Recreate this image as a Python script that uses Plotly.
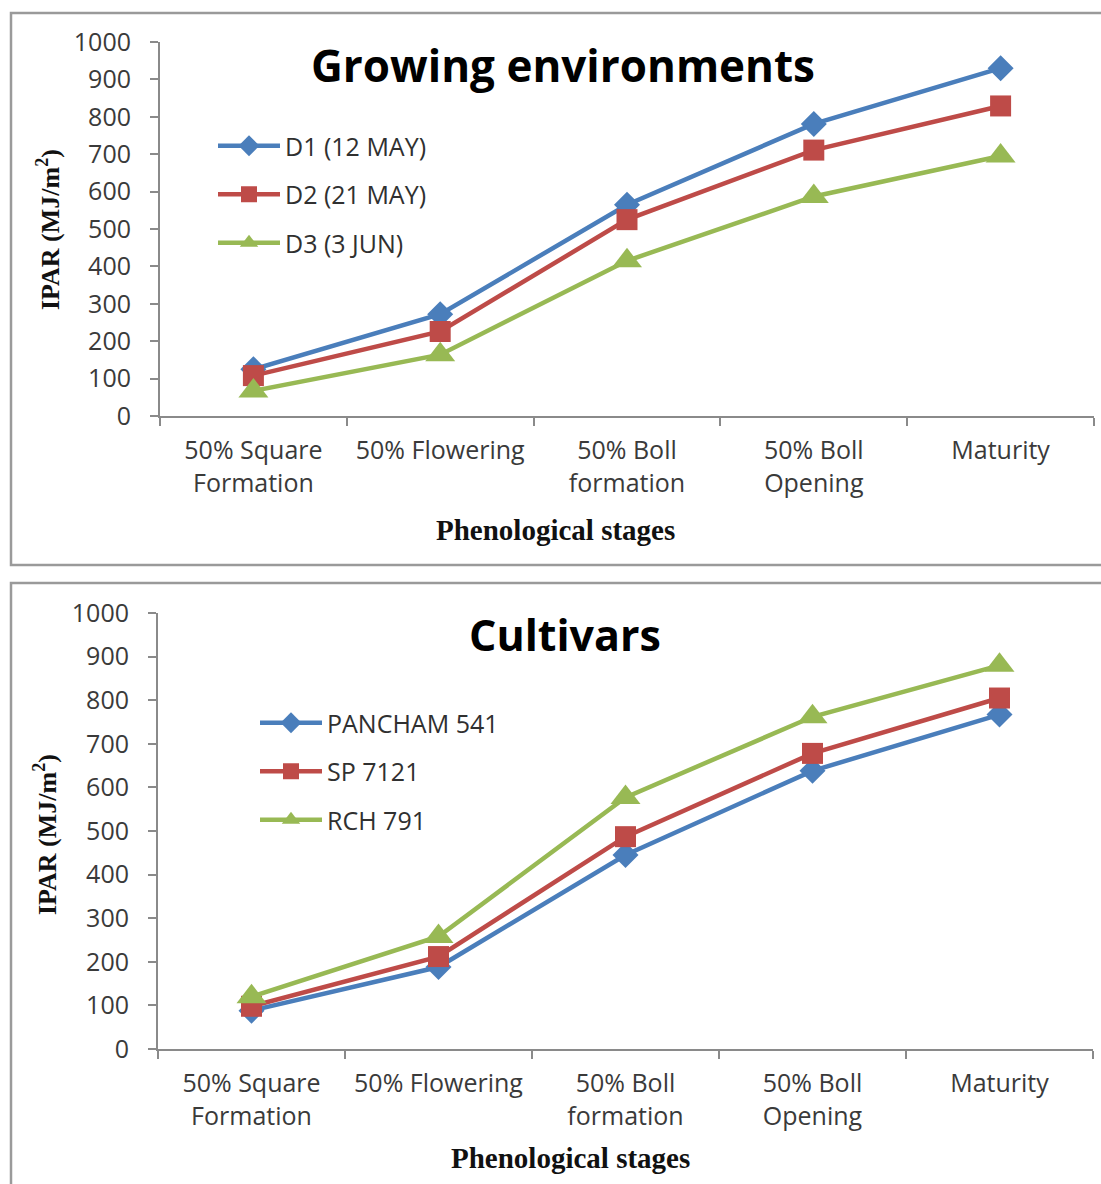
import plotly.graph_objects as go

W, H = 1101, 1184

stages = ["50% Square<br>Formation", "50% Flowering", "50% Boll<br>formation",
          "50% Boll<br>Opening", "Maturity"]

# Growing environments (sowing dates)
d1_12may = [125, 272, 565, 781, 930]
d2_21may = [108, 226, 525, 711, 829]
d3_3jun = [67, 164, 415, 587, 695]

# Cultivars
pancham_541 = [88, 188, 445, 638, 767]
sp_7121 = [98, 212, 487, 678, 805]
rch_791 = [120, 258, 577, 762, 880]

y_ticks = [0, 100, 200, 300, 400, 500, 600, 700, 800, 900, 1000]

BLUE, RED, GREEN = "#4a7ebb", "#be4b48", "#98b954"
SANS = "'Open Sans', Calibri, sans-serif"
SERIF = "'Liberation Serif', 'Times New Roman', serif"
TICK_COLOR = "#3a3a3a"
AXIS_COLOR = "#8a8a8a"


def px_x(p):
    return p / W


def px_y(p):
    return 1 - p / H


series_top = [("D1 (12 MAY)", d1_12may, BLUE, "diamond", 20),
              ("D2 (21 MAY)", d2_21may, RED, "square", 21),
              ("D3 (3 JUN)", d3_3jun, GREEN, "triangle-up", 26)]
series_bot = [("PANCHAM 541", pancham_541, BLUE, "diamond", 20),
              ("SP 7121", sp_7121, RED, "square", 21),
              ("RCH 791", rch_791, GREEN, "triangle-up", 26)]

fig = go.Figure()

for i, (name, vals, col, sym, size) in enumerate(series_top):
    fig.add_trace(go.Scatter(
        x=stages, y=vals, name=name, mode="lines+markers",
        line=dict(color=col, width=4.5),
        marker=dict(symbol=sym, size=size, color=col),
        xaxis="x", yaxis="y", legend="legend", legendgroup=f"t{i}"))

for i, (name, vals, col, sym, size) in enumerate(series_bot):
    fig.add_trace(go.Scatter(
        x=stages, y=vals, name=name, mode="lines+markers",
        line=dict(color=col, width=4.5),
        marker=dict(symbol=sym, size=size, color=col),
        xaxis="x2", yaxis="y2", legend="legend2", legendgroup=f"b{i}"))

xaxis_common = dict(
    type="category", showgrid=False, zeroline=False,
    showline=True, linecolor=AXIS_COLOR, linewidth=2,
    ticks="outside", tickson="boundaries", ticklen=8, tickcolor=AXIS_COLOR, tickwidth=2,
    tickfont=dict(family=SANS, size=25, color=TICK_COLOR), ticklabelstandoff=11,
    range=[-0.5, 4.5], fixedrange=True)
yaxis_common = dict(
    range=[0, 1000], tickvals=y_ticks, showgrid=False, zeroline=False,
    showline=True, linecolor=AXIS_COLOR, linewidth=2,
    ticks="outside", ticklen=8, tickcolor=AXIS_COLOR, tickwidth=2,
    tickfont=dict(family=SANS, size=25, color=TICK_COLOR), ticklabelstandoff=14,
    fixedrange=True)

legend_common = dict(
    font=dict(family=SANS, size=25, color="#303030"),
    bgcolor="rgba(0,0,0,0)", itemwidth=62, tracegroupgap=13,
    xanchor="left", yanchor="top", traceorder="grouped")

fig.update_layout(
    width=W, height=H, margin=dict(l=0, r=0, t=0, b=0, pad=0, autoexpand=False),
    paper_bgcolor="white", plot_bgcolor="white",
    xaxis=dict(domain=[px_x(160), px_x(1094)], anchor="y", **xaxis_common),
    yaxis=dict(domain=[px_y(416), px_y(42)], anchor="x", **yaxis_common),
    xaxis2=dict(domain=[px_x(158), px_x(1093)], anchor="y2", **xaxis_common),
    yaxis2=dict(domain=[px_y(1049), px_y(613)], anchor="x2", **yaxis_common),
    legend=dict(x=px_x(213), y=px_y(123), **legend_common),
    legend2=dict(x=px_x(255), y=px_y(700), **legend_common),
    showlegend=True,
)

# panel frames
frame = dict(type="rect", xref="paper", yref="paper",
             line=dict(color="#9a9a9a", width=2.5), fillcolor="rgba(0,0,0,0)", layer="below")
fig.add_shape(x0=px_x(11), x1=1.02, y0=px_y(565), y1=px_y(13), **frame)
fig.add_shape(x0=px_x(11), x1=1.02, y0=-0.02, y1=px_y(583), **frame)

annotations = [
    dict(text="<b>Growing environments</b>", x=px_x(563), y=px_y(65),
         font=dict(family=SANS, size=44, color="black")),
    dict(text="<b>Cultivars</b>", x=px_x(565), y=px_y(634),
         font=dict(family=SANS, size=43, color="black")),
    dict(text="<b>Phenological stages</b>", x=px_x(555), y=px_y(530),
         font=dict(family=SERIF, size=29, color="#111111")),
    dict(text="<b>Phenological stages</b>", x=px_x(570), y=px_y(1158),
         font=dict(family=SERIF, size=29, color="#111111")),
    dict(text="<b>IPAR (MJ/m<sup>2</sup>)</b>", x=px_x(48), y=px_y(230), textangle=-90,
         font=dict(family=SERIF, size=26, color="#111111")),
    dict(text="<b>IPAR (MJ/m<sup>2</sup>)</b>", x=px_x(45), y=px_y(835), textangle=-90,
         font=dict(family=SERIF, size=26, color="#111111")),
]
for a in annotations:
    fig.add_annotation(xref="paper", yref="paper", showarrow=False,
                       xanchor="center", yanchor="middle", **a)

fig.write_html("out.html")
